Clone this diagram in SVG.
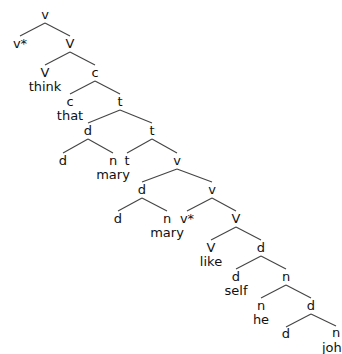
<svg xmlns="http://www.w3.org/2000/svg" width="342" height="354" viewBox="0 0 342 354">
<style>
text{font-family:"DejaVu Sans","Liberation Sans",sans-serif;font-size:13px;fill:#111;text-anchor:middle}
.c line{stroke:#444;stroke-width:1.1}
</style>
<rect width="342" height="354" fill="#fff"/>
<g class="c" id="connectors">
<line x1="45" y1="23" x2="20" y2="36"/><line x1="45" y1="23" x2="70" y2="36"/>
<line x1="70" y1="52" x2="45" y2="65"/><line x1="70" y1="52" x2="95" y2="65"/>
<line x1="95" y1="81" x2="70" y2="94"/><line x1="95" y1="81" x2="120" y2="94"/>
<line x1="120" y1="110" x2="88" y2="123"/><line x1="120" y1="110" x2="152" y2="123"/>
<line x1="88" y1="139" x2="63" y2="153"/><line x1="88" y1="139" x2="113" y2="153"/>
<line x1="152" y1="139" x2="127" y2="153"/><line x1="152" y1="139" x2="177" y2="153"/>
<line x1="177" y1="169" x2="142" y2="182"/><line x1="177" y1="169" x2="212" y2="182"/>
<line x1="142" y1="198" x2="118" y2="211"/><line x1="142" y1="198" x2="167" y2="211"/>
<line x1="212" y1="198" x2="187" y2="211"/><line x1="212" y1="198" x2="236" y2="211"/>
<line x1="236" y1="227" x2="211" y2="240"/><line x1="236" y1="227" x2="261" y2="240"/>
<line x1="261" y1="256" x2="236" y2="269"/><line x1="261" y1="256" x2="286" y2="269"/>
<line x1="286" y1="285" x2="261" y2="298"/><line x1="286" y1="285" x2="311" y2="298"/>
<line x1="311" y1="314" x2="286" y2="327"/><line x1="311" y1="314" x2="336" y2="326"/>
</g>
<g id="n0"><text x="45" y="19">v</text></g>
<g id="n1"><text x="20" y="48">v*</text></g>
<g id="n2"><text x="70" y="48">V</text></g>
<g id="n3"><text x="45" y="77">V</text><text x="45" y="91">think</text></g>
<g id="n4"><text x="95" y="77">c</text></g>
<g id="n5"><text x="70" y="106">c</text><text x="70" y="120">that</text></g>
<g id="n6"><text x="120" y="106">t</text></g>
<g id="n7"><text x="88" y="135">d</text></g>
<g id="n8"><text x="152" y="135">t</text></g>
<g id="n9"><text x="63" y="165">d</text></g>
<g id="n10"><text x="113" y="165">n</text><text x="113" y="179">mary</text></g>
<g id="n11"><text x="127" y="165">t</text></g>
<g id="n12"><text x="177" y="165">v</text></g>
<g id="n13"><text x="142" y="194">d</text></g>
<g id="n14"><text x="212" y="194">v</text></g>
<g id="n15"><text x="118" y="223">d</text></g>
<g id="n16"><text x="167" y="223">n</text><text x="167" y="237">mary</text></g>
<g id="n17"><text x="187" y="223">v*</text></g>
<g id="n18"><text x="236" y="223">V</text></g>
<g id="n19"><text x="211" y="252">V</text><text x="211" y="266">like</text></g>
<g id="n20"><text x="261" y="252">d</text></g>
<g id="n21"><text x="236" y="281">d</text><text x="236" y="295">self</text></g>
<g id="n22"><text x="286" y="281">n</text></g>
<g id="n23"><text x="261" y="310">n</text><text x="261" y="324">he</text></g>
<g id="n24"><text x="311" y="310">d</text></g>
<g id="n25"><text x="286" y="338">d</text></g>
<g id="n26"><text x="336" y="337">n</text><text x="322" y="352" style="text-anchor:start">joh</text></g>
</svg>
